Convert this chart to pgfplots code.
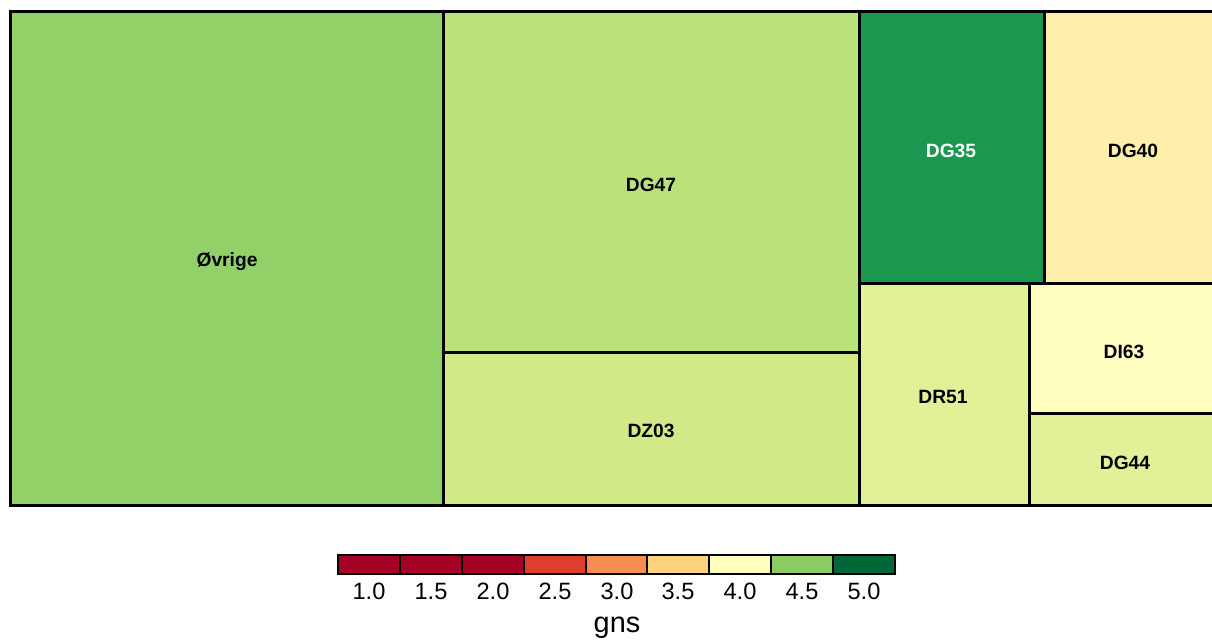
\documentclass[border=0pt]{standalone}
\usepackage{pgfplots}
\pgfplotsset{compat=1.18}
\usepackage{fontspec}
\setmainfont{Liberation Sans}

% treemap tiles
\definecolor{cOvr}{HTML}{92D068}
\definecolor{cDGa}{HTML}{BAE27A}
\definecolor{cDZ}{HTML}{D1EA87}
\definecolor{cDGb}{HTML}{1A9850}
\definecolor{cDGc}{HTML}{FEF0AA}
\definecolor{cDR}{HTML}{E1F198}
\definecolor{cDI}{HTML}{FFFFBF}
\definecolor{cDGd}{HTML}{E1F198}
% legend
\definecolor{l1}{HTML}{A50026}
\definecolor{l4}{HTML}{DD3F2E}
\definecolor{l5}{HTML}{F88D51}
\definecolor{l6}{HTML}{FED27F}
\definecolor{l7}{HTML}{FFFFBF}
\definecolor{l8}{HTML}{8BCB61}
\definecolor{l9}{HTML}{006837}

\pgfplotstableread{
x y lab
227 262 Øvrige
651 185 DG47
651 431 DZ03
1133 151 DG40
943 397 DR51
1124 352 DI63
1125 463 DG44
}\tilelabels

\pgfplotstableread{
x y lab
369 591 1.0
431 591 1.5
493 591 2.0
555 591 2.5
617 591 3.0
678 591 3.5
740 591 4.0
802 591 4.5
864 591 5.0
}\ticklabs

\begin{document}
\begin{tikzpicture}
\begin{axis}[
    width=1212bp, height=643bp, scale only axis,
    xmin=0, xmax=1212, ymin=0, ymax=643,
    y dir=reverse,
    axis lines=none,
    clip=true,
]
\path (axis cs:0,0) rectangle (axis cs:1212,643);

% tiles
\addplot[fill=cOvr, draw=black, line width=3bp] coordinates {(10,12)(443,12)(443,505)(10,505)} -- cycle;
\addplot[fill=cDGa, draw=black, line width=3bp] coordinates {(443,12)(859,12)(859,352)(443,352)} -- cycle;
\addplot[fill=cDZ, draw=black, line width=3bp] coordinates {(443,352)(859,352)(859,505)(443,505)} -- cycle;
\addplot[fill=cDGb, draw=black, line width=3bp] coordinates {(859,12)(1044,12)(1044,283)(859,283)} -- cycle;
\addplot[fill=cDGc, draw=black, line width=3bp] coordinates {(1044,12)(1220,12)(1220,283)(1044,283)} -- cycle;
\addplot[fill=cDR, draw=black, line width=3bp] coordinates {(859,283)(1029,283)(1029,505)(859,505)} -- cycle;
\addplot[fill=cDI, draw=black, line width=3bp] coordinates {(1029,283)(1220,283)(1220,413)(1029,413)} -- cycle;
\addplot[fill=cDGd, draw=black, line width=3bp] coordinates {(1029,413)(1220,413)(1220,505)(1029,505)} -- cycle;

% tile labels
\addplot[only marks, mark size=0pt, mark options={draw=none, fill=none},
    nodes near coords, point meta=explicit symbolic,
    nodes near coords style={anchor=center, text=black,
        font=\bfseries\fontsize{19.3}{19.3}\selectfont}]
    table[meta=lab] {\tilelabels};
\addplot[only marks, mark size=0pt, mark options={draw=none, fill=none},
    nodes near coords, point meta=explicit symbolic,
    nodes near coords style={anchor=center, text=white,
        font=\bfseries\fontsize{19.3}{19.3}\selectfont}]
    table[meta=lab] {
x y lab
951 151 DG35
};

% colour legend
\addplot[fill=l1, draw=black, line width=1.2bp] coordinates {(338,555)(400,555)(400,574)(338,574)} -- cycle;
\addplot[fill=l1, draw=black, line width=1.2bp] coordinates {(400,555)(462,555)(462,574)(400,574)} -- cycle;
\addplot[fill=l1, draw=black, line width=1.2bp] coordinates {(462,555)(524,555)(524,574)(462,574)} -- cycle;
\addplot[fill=l4, draw=black, line width=1.2bp] coordinates {(524,555)(586,555)(586,574)(524,574)} -- cycle;
\addplot[fill=l5, draw=black, line width=1.2bp] coordinates {(586,555)(647,555)(647,574)(586,574)} -- cycle;
\addplot[fill=l6, draw=black, line width=1.2bp] coordinates {(647,555)(709,555)(709,574)(647,574)} -- cycle;
\addplot[fill=l7, draw=black, line width=1.2bp] coordinates {(709,555)(771,555)(771,574)(709,574)} -- cycle;
\addplot[fill=l8, draw=black, line width=1.2bp] coordinates {(771,555)(833,555)(833,574)(771,574)} -- cycle;
\addplot[fill=l9, draw=black, line width=1.2bp] coordinates {(833,555)(895,555)(895,574)(833,574)} -- cycle;

\addplot[only marks, mark size=0pt, mark options={draw=none, fill=none},
    nodes near coords, point meta=explicit symbolic,
    nodes near coords style={anchor=center, text=black,
        font=\fontsize{23.7}{23.7}\selectfont}]
    table[meta=lab] {\ticklabs};

\node[font=\fontsize{29}{29}\selectfont] at (axis cs:617,628) {gns};
\end{axis}
\end{tikzpicture}
\end{document}
